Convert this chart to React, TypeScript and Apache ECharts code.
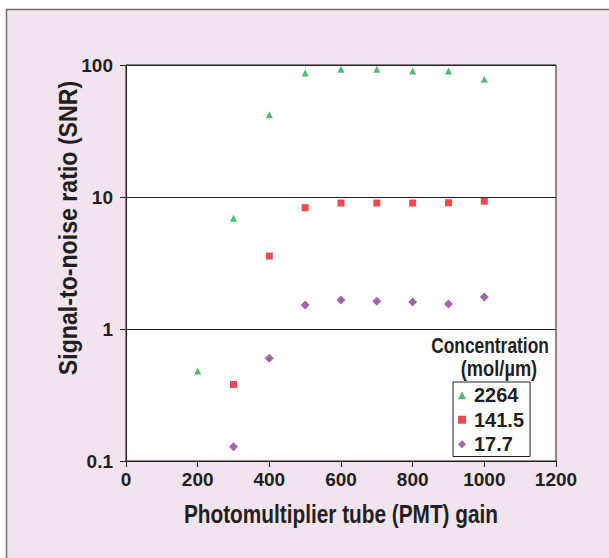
import React, { useEffect, useRef } from "react";
import * as echarts from "echarts";

const gain2264 = [200, 300, 400, 500, 600, 700, 800, 900, 1000];
const snr2264 = [0.48, 6.9, 42, 87, 93, 93, 90, 90, 78];
const gain1415 = [300, 400, 500, 600, 700, 800, 900, 1000];
const snr1415 = [0.38, 3.57, 8.3, 9.0, 9.0, 9.0, 9.05, 9.3];
const gain177 = [300, 400, 500, 600, 700, 800, 900, 1000];
const snr177 = [0.128, 0.6, 1.52, 1.66, 1.62, 1.6, 1.55, 1.75];
const seriesNames = ["2264", "141.5", "17.7"];
const xTitle = "Photomultiplier tube (PMT) gain";
const yTitle = "Signal-to-noise ratio (SNR)";
const legendTitle = ["Concentration", "(mol/\u00b5m)"];

const FONT = '"Liberation Sans", Arial, sans-serif';
const INK = "#231f20";

const zip = (xs: number[], ys: number[]) => xs.map((x, i) => [x, ys[i]]);

const label = (
  text: string,
  x: number,
  y: number,
  size: number,
  scaleX: number,
  rotation = 0
) => ({
  type: "text",
  x,
  y,
  rotation,
  scaleX,
  style: {
    text,
    fontFamily: FONT,
    fontWeight: "bold",
    fontSize: size,
    fill: INK,
    textAlign: "center",
    textVerticalAlign: "middle",
  },
});

export default function App() {
  const ref = useRef<HTMLDivElement>(null);
  useEffect(() => {
    if (!ref.current) return;
    const chart = echarts.init(ref.current, null, { renderer: "svg" });
    chart.setOption({
      animation: false,
      backgroundColor: "#ffffff",
      textStyle: { fontFamily: FONT },
      graphic: [
        {
          type: "rect",
          z: -100,
          silent: true,
          shape: { x: 6.5, y: 9.5, width: 700, height: 700 },
          style: { fill: "#f2e4ee", stroke: "#6d6d6d", lineWidth: 1.5 },
        },
        label(yTitle, 68, 228, 26, 0.89, Math.PI / 2),
        label(xTitle, 341, 514, 26, 0.8),
        label(legendTitle[0], 490, 345, 22, 0.79),
        label(legendTitle[1], 499, 368, 22, 0.83),
      ],
      grid: {
        left: 126,
        top: 65,
        width: 430,
        height: 396,
        show: true,
        backgroundColor: "#ffffff",
        borderColor: INK,
        borderWidth: 1,
      },
      xAxis: {
        type: "value",
        min: 0,
        max: 1200,
        interval: 200,
        axisLine: { show: true, lineStyle: { color: INK, width: 1 } },
        axisTick: { show: true, inside: false, length: 6, lineStyle: { color: INK } },
        axisLabel: {
          fontFamily: FONT,
          fontWeight: "bold",
          fontSize: 19,
          color: INK,
          margin: 9,
          formatter: (v: number) => String(v),
        },
        splitLine: { show: false },
      },
      yAxis: {
        type: "log",
        logBase: 10,
        min: 0.1,
        max: 100,
        axisLine: { show: true, lineStyle: { color: INK, width: 1 } },
        axisTick: { show: true, inside: false, length: 6, lineStyle: { color: INK } },
        minorTick: { show: false },
        axisLabel: {
          fontFamily: FONT,
          fontWeight: "bold",
          fontSize: 19,
          color: INK,
          margin: 13,
          formatter: (v: number) => String(Number(v.toPrecision(3))),
        },
        splitLine: { show: true, lineStyle: { color: INK, width: 1 } },
      },
      legend: {
        orient: "vertical",
        left: 453,
        top: 382,
        padding: [1, 6, 0, 5],
        itemGap: 0,
        itemWidth: 8,
        itemHeight: 8,
        backgroundColor: "#ffffff",
        borderColor: INK,
        borderWidth: 1,
        borderRadius: 0,
        textStyle: {
          fontFamily: FONT,
          fontWeight: "bold",
          fontSize: 20,
          color: INK,
          lineHeight: 24.5,
          padding: [0, 0, 0, 3],
        },
        data: [
          { name: seriesNames[0], icon: "triangle" },
          { name: seriesNames[1], icon: "rect" },
          { name: seriesNames[2], icon: "diamond" },
        ],
      },
      series: [
        {
          name: seriesNames[0],
          type: "scatter",
          symbol: "triangle",
          symbolSize: 7,
          itemStyle: { color: "#1fae4b" },
          data: zip(gain2264, snr2264),
        },
        {
          name: seriesNames[1],
          type: "scatter",
          symbol: "rect",
          symbolSize: 7,
          itemStyle: { color: "#ec1c24" },
          data: zip(gain1415, snr1415),
        },
        {
          name: seriesNames[2],
          type: "scatter",
          symbol: "diamond",
          symbolSize: 9,
          itemStyle: { color: "#8b3d99" },
          data: zip(gain177, snr177),
        },
      ],
    });
    return () => chart.dispose();
  }, []);
  return (
    <div
      ref={ref}
      style={{ position: "absolute", left: 0, top: 0, width: 609, height: 558 }}
    />
  );
}
